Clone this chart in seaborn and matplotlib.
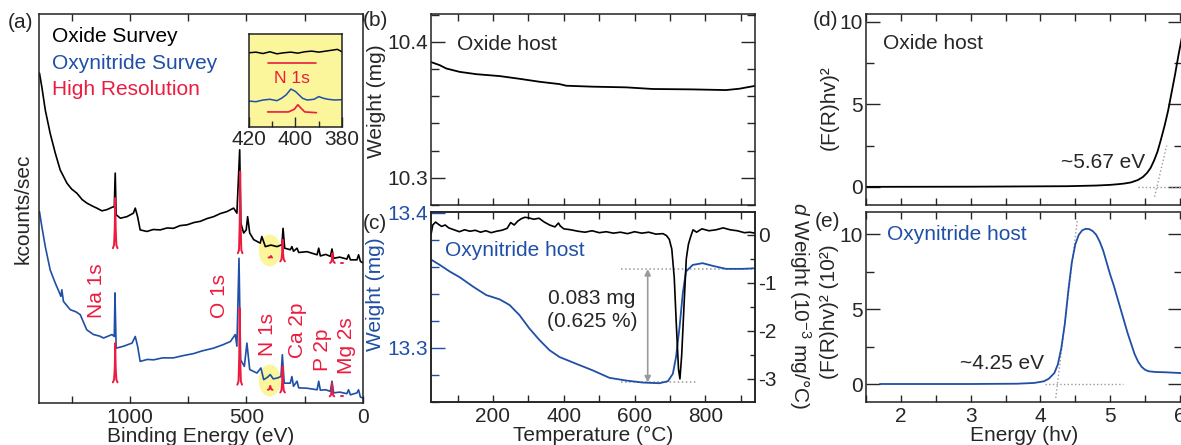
import matplotlib
matplotlib.use("Agg")
import matplotlib.pyplot as plt
from matplotlib.patches import Ellipse
from matplotlib.ticker import MultipleLocator
import seaborn as sns

sns.set_style("ticks")
plt.rcParams["font.family"] = ["Liberation Sans", "DejaVu Sans"]
plt.rcParams["font.size"] = 15
plt.rcParams["axes.unicode_minus"] = False
plt.rcParams["mathtext.fontset"] = "custom"
plt.rcParams["mathtext.rm"] = "Liberation Sans"
plt.rcParams["mathtext.it"] = "Liberation Sans:italic"

BLUE = "#1f4fa6"
RED = "#ec1b3f"
YELLOW = "#fbf59c"
GRAY = "#9a9a9a"

# --- (a) XPS survey spectra (arbitrary kcounts/sec units) ---
be_oxide = [1388, 1378, 1363, 1342, 1320, 1299, 1270, 1250, 1227, 1205, 1185, 1160, 1142, 1120, 1099,
            1077, 1067, 1063, 1059, 1041, 1013, 985, 977, 967, 956, 927, 900, 870, 840, 813, 785, 755,
            725, 698, 670, 641, 612, 584, 555, 541, 529, 524, 512, 501, 495, 486, 469, 441, 434, 419,
            395, 369, 348, 343, 336, 312, 305, 298, 283, 276, 240, 197, 190, 183, 160, 140, 133, 126,
            100, 69, 62, 54, 26, 19, 11, 0]
cps_oxide = [84.8, 81.3, 75.3, 69.3, 64.2, 59.9, 56.5, 55.0, 53.9, 52.3, 51.4, 50.6, 50.1, 49.4, 49.7,
             50.3, 50.5, 59.1, 48.4, 47.5, 47.9, 48.8, 50.1, 47.9, 44.5, 44.1, 44.6, 44.5, 45.0, 44.9,
             45.6, 45.8, 46.4, 46.7, 47.4, 47.9, 48.7, 49.2, 50.1, 48.8, 65.1, 46.2, 43.7, 44.5, 47.9,
             43.7, 42.0, 41.1, 42.8, 40.2, 40.6, 40.2, 40.7, 44.9, 39.8, 39.4, 40.2, 39.0, 39.8, 38.7,
             38.9, 38.1, 39.8, 37.8, 38.2, 37.7, 39.6, 37.2, 37.5, 37.0, 38.1, 36.8, 36.8, 38.1, 36.4, 36.0]
be_oxynitride = [1388, 1378, 1363, 1342, 1320, 1302, 1296, 1292, 1285, 1256, 1230, 1213, 1185, 1156,
                 1130, 1113, 1077, 1067, 1064, 1059, 1027, 991, 977, 967, 956, 925, 898, 860, 813, 770,
                 727, 690, 641, 600, 569, 548, 541, 532, 525, 509, 498, 486, 455, 438, 426, 410, 398,
                 385, 369, 352, 346, 338, 312, 305, 298, 283, 276, 240, 197, 190, 183, 160, 140, 133,
                 126, 100, 69, 62, 54, 26, 19, 11, 0]
cps_oxynitride = [49.2, 45.4, 40.2, 34.2, 30.8, 28.3, 27.4, 29.1, 26.1, 24.0, 23.4, 22.7, 18.8, 17.6,
                  17.2, 16.7, 17.6, 17.1, 28.3, 14.1, 14.6, 15.4, 17.1, 14.6, 10.7, 11.2, 11.1, 11.6,
                  11.6, 12.2, 12.7, 13.4, 14.1, 15.0, 15.8, 17.6, 14.6, 37.2, 11.1, 9.4, 15.4, 8.6, 7.7,
                  9.0, 6.0, 6.6, 7.3, 6.2, 6.4, 6.8, 12.4, 5.1, 5.1, 6.8, 4.3, 5.6, 3.9, 3.8, 3.4, 5.6,
                  3.3, 3.4, 3.0, 5.6, 2.6, 2.8, 2.4, 3.4, 2.1, 2.6, 3.4, 1.5, 1.3]

# high resolution scans (red), one list per element line
hr_oxide_be = [[1073, 1068, 1065, 1063, 1061, 1058, 1053],
               [537, 532, 529, 527, 525, 522, 517],
               [405, 400, 397, 395, 393, 390],
               [355, 350, 347, 345, 343, 340, 335],
               [141, 136, 133, 131, 129, 126, 121],
               [95, 85]]
hr_oxide_cps = [[39.8, 40.6, 45.0, 52.7, 45.0, 40.6, 39.8],
                [38.5, 39.3, 46.0, 59.5, 46.0, 39.3, 38.5],
                [37.4, 37.4, 37.6, 37.8, 37.5, 37.4],
                [36.4, 36.9, 38.5, 42.0, 38.5, 36.9, 36.4],
                [36.0, 36.3, 37.0, 38.5, 37.0, 36.3, 36.0],
                [36.0, 36.0]]
hr_oxyn_be = [[1073, 1068, 1065, 1063, 1061, 1058, 1053],
              [539, 534, 531, 529, 527, 524, 519],
              [408, 403, 400, 398, 396, 393, 388],
              [355, 350, 347, 345, 343, 340, 335],
              [143, 138, 135, 133, 131, 128, 123],
              [95, 85]]
hr_oxyn_cps = [[5.3, 6.0, 9.0, 15.4, 9.0, 6.0, 5.3],
               [4.7, 5.6, 12.0, 24.4, 12.0, 5.6, 4.7],
               [3.4, 3.5, 3.9, 4.4, 3.9, 3.5, 3.4],
               [2.7, 3.2, 5.2, 9.4, 5.2, 3.2, 2.7],
               [1.7, 2.0, 3.0, 5.1, 3.0, 2.0, 1.7],
               [1.7, 1.7]]

peak_names = ["Na 1s", "O 1s", "N 1s", "Ca 2p", "P 2p", "Mg 2s"]
peak_be = [1142, 614, 408, 283, 172, 69]
peak_y = [29.0, 27.5, 17.5, 18.8, 13.6, 14.7]

# inset: N 1s region
ins_be_oxide = [420, 417, 414, 411, 408, 405, 402, 399, 396, 393, 390, 387, 384, 382, 380]
ins_oxide = [79.8, 80.5, 79.0, 80.9, 78.7, 79.8, 80.5, 79.4, 80.9, 81.6, 80.5, 81.6, 82.7, 83.5, 80.9]
ins_be_oxyn = [420, 417, 414, 411, 408, 406, 404, 402, 400, 397, 395, 392, 390, 388, 386, 383, 380]
ins_oxyn = [27.9, 27.2, 29.0, 29.8, 28.3, 30.9, 34.6, 40.8, 38.2, 30.9, 29.0, 29.8, 32.7, 30.9, 29.8, 29.0, 29.4]
ins_hr_be = [412, 403, 400.5, 399, 397.5, 396, 391]
ins_hr = [16.2, 16.2, 19.1, 23.9, 19.9, 16.2, 15.4]
ins_hr_bar_be = [412, 391]
ins_hr_bar = [68.4, 68.4]

# --- (b) TGA oxide host ---
temp_oxide = [23, 50, 68, 106, 153, 219, 275, 332, 388, 407, 482, 576, 651, 764, 858, 896, 938]
wt_oxide = [10.3854, 10.3829, 10.3805, 10.3780, 10.3763, 10.3749, 10.3729, 10.3707, 10.3690,
            10.3678, 10.3671, 10.3666, 10.3654, 10.3651, 10.3646, 10.3656, 10.3676]

# --- (c) TGA / DTG oxynitride host ---
temp_oxyn = [23, 50, 78, 106, 144, 181, 219, 247, 275, 303, 332, 360, 388, 435, 482, 529, 576, 623,
             670, 694, 708, 717, 727, 736, 745, 764, 792, 821, 858, 905, 938]
wt_oxyn = [13.3658, 13.3615, 13.3566, 13.3524, 13.3454, 13.3392, 13.3360, 13.3318, 13.3243, 13.3144,
           13.3057, 13.2983, 13.2933, 13.2883, 13.2834, 13.2779, 13.2759, 13.2744, 13.2739, 13.2754,
           13.2809, 13.2933, 13.3156, 13.3404, 13.3566, 13.3615, 13.3628, 13.3608, 13.3586, 13.3586,
           13.3590]
temp_dtg = [25, 30, 38, 45, 55, 65, 75, 90, 105, 120, 135, 150, 165, 180, 195, 210, 225, 240, 250,
            260, 270, 280, 290, 300, 315, 330, 345, 360, 375, 385, 390, 400, 420, 440, 460, 480, 500,
            520, 540, 560, 580, 600, 620, 640, 660, 680, 690, 698, 705, 712, 718, 724, 728, 733, 740,
            746, 752, 758, 765, 775, 790, 810, 830, 850, 870, 890, 910, 925, 940]
dtg = [0.0, 0.2, 0.26, 0.22, 0.17, 0.2, 0.14, 0.1, 0.06, 0.1, 0.07, 0.09, 0.05, 0.08, 0.04, 0.07, 0.09,
       0.13, 0.25, 0.2, 0.28, 0.33, 0.36, 0.35, 0.32, 0.34, 0.26, 0.2, 0.16, 0.24, 0.18, 0.12, 0.1,
       0.07, 0.05, 0.08, 0.04, 0.06, 0.03, 0.05, 0.02, 0.06, 0.03, 0.05, 0.01, 0.02, -0.02, -0.1, -0.3,
       -0.9, -1.9, -2.8, -3.0, -2.5, -1.4, -0.5, -0.2, -0.05, 0.1, 0.05, 0.12, 0.08, 0.1, 0.14, 0.1,
       0.08, 0.04, 0.05, 0.03]
wt_before = 13.3585
wt_after = 13.2745
step_temp = 637

# --- (d) Tauc plot oxide host ---
energy_oxide = [1.5, 3.0, 4.39, 4.8, 5.0, 5.11, 5.2, 5.3, 5.4, 5.47, 5.53, 5.58, 5.63, 5.68, 5.73,
                5.78, 5.83, 5.88, 5.93, 5.98, 6.03, 6.06]
tauc_oxide = [0.0, 0.01, 0.04, 0.08, 0.12, 0.16, 0.2, 0.27, 0.42, 0.6, 0.85, 1.15, 1.6, 2.15, 2.9,
              3.7, 4.6, 5.7, 6.8, 8.0, 9.1, 9.8]
tangent_d_x = [5.637, 5.81]
tangent_d_y = [-0.6, 2.5]
base_d_x = [5.4, 6.05]

# --- (e) Tauc plot oxynitride host ---
energy_oxyn = [1.7, 3.0, 3.67, 3.91, 4.05, 4.12, 4.2, 4.25, 4.3, 4.35, 4.4, 4.45, 4.5, 4.55, 4.6,
               4.65, 4.7, 4.75, 4.8, 4.85, 4.9, 4.95, 5.0, 5.05, 5.1, 5.15, 5.2, 5.25, 5.3, 5.35,
               5.4, 5.45, 5.5, 5.55, 5.65, 5.8, 6.05]
tauc_oxyn = [0.0, 0.0, 0.02, 0.07, 0.18, 0.35, 0.73, 1.3, 2.4, 4.0, 6.2, 8.1, 9.3, 9.95, 10.25,
             10.35, 10.33, 10.2, 9.95, 9.5, 8.9, 8.1, 7.3, 6.6, 5.8, 5.0, 4.2, 3.4, 2.7, 2.0, 1.5,
             1.15, 0.95, 0.85, 0.8, 0.78, 0.72]
tangent_e_x = [4.22, 4.53]
tangent_e_y = [-0.93, 10.96]
base_e_x = [4.07, 5.18]

W, H = 1181, 445


def px_axes(left, top, right, bottom):
    return fig.add_axes([left / W, 1 - bottom / H, (right - left) / W, (bottom - top) / H])


def draw(ax, x, y, color, lw=1.3, ls="-"):
    sns.lineplot(x=x, y=y, ax=ax, color=color, lw=lw, ls=ls, sort=False,
                 estimator=None, legend=False)


def frame(ax):
    for s in ax.spines.values():
        s.set_linewidth(1.1)
        s.set_color("#222222")
    ax.set_xlabel("")
    ax.set_ylabel("")


fig = plt.figure(figsize=(W / 100, H / 100), dpi=100)

# ---------------- panel (a) ----------------
ax_a = px_axes(39, 14, 363, 403)
for be, yc in [(400, 39.2), (400, 5.8)]:
    ax_a.add_patch(Ellipse((be, yc), 94, 8.2, facecolor=YELLOW, edgecolor="none", zorder=0))
draw(ax_a, be_oxide, cps_oxide, "black", lw=1.2)
draw(ax_a, be_oxynitride, cps_oxynitride, BLUE, lw=1.2)
for bx, cy in zip(hr_oxide_be, hr_oxide_cps):
    draw(ax_a, bx, cy, RED, lw=1.4)
for bx, cy in zip(hr_oxyn_be, hr_oxyn_cps):
    draw(ax_a, bx, cy, RED, lw=1.4)
ax_a.set_xlim(1390, 0)
ax_a.set_ylim(0, 100)
frame(ax_a)
ax_a.set_yticks([])
ax_a.xaxis.set_major_locator(MultipleLocator(500))
ax_a.xaxis.set_minor_locator(MultipleLocator(250))
ax_a.tick_params(axis="x", which="both", direction="in", top=True, length=5, width=1)
ax_a.set_xlabel("Binding Energy (eV)", labelpad=0)
ax_a.set_ylabel("kcounts/sec")
ax_a.yaxis.set_label_coords(-0.049, 0.5)
ax_a.yaxis.label.set_va("center")
for name, bx, by in zip(peak_names, peak_be, peak_y):
    ax_a.text(bx, by, name, color=RED, rotation=90, ha="center", va="center")
ax_a.text(0.04, 0.943, "Oxide Survey", transform=ax_a.transAxes, va="center", color="black")
ax_a.text(0.04, 0.874, "Oxynitride Survey", transform=ax_a.transAxes, va="center", color=BLUE)
ax_a.text(0.04, 0.805, "High Resolution", transform=ax_a.transAxes, va="center", color=RED)

# inset
ax_in = px_axes(249, 34, 342, 127)
ax_in.set_facecolor(YELLOW)
draw(ax_in, ins_be_oxide, ins_oxide, "black", lw=1.1)
draw(ax_in, ins_be_oxyn, ins_oxyn, BLUE, lw=1.1)
draw(ax_in, ins_hr_be, ins_hr, RED, lw=1.2)
draw(ax_in, ins_hr_bar_be, ins_hr_bar, RED, lw=1.2)
ax_in.text(401.5, 52, "N 1s", color=RED, ha="center", va="center", fontsize=12.5)
ax_in.set_xlim(420, 380)
ax_in.set_ylim(0, 100)
frame(ax_in)
ax_in.set_yticks([])
ax_in.xaxis.set_major_locator(MultipleLocator(20))
ax_in.xaxis.set_minor_locator(MultipleLocator(10))
ax_in.tick_params(axis="x", which="major", direction="in", length=7, width=1, pad=2)
ax_in.tick_params(axis="x", which="minor", direction="in", length=4.5, width=1)

# ---------------- panel (b) ----------------
ax_b = px_axes(431, 14, 755, 205)
draw(ax_b, temp_oxide, wt_oxide, "black", lw=1.3)
ax_b.set_xlim(25, 940)
ax_b.set_ylim(10.280, 10.4206)
frame(ax_b)
ax_b.xaxis.set_major_locator(MultipleLocator(200))
ax_b.xaxis.set_minor_locator(MultipleLocator(100))
ax_b.yaxis.set_major_locator(MultipleLocator(0.1))
ax_b.yaxis.set_minor_locator(MultipleLocator(0.02))
ax_b.tick_params(axis="x", which="both", direction="in", top=True, length=5, width=1, labelbottom=False)
ax_b.tick_params(axis="y", which="major", direction="in", length=10, width=1, right=True, pad=2)
ax_b.tick_params(axis="y", which="minor", direction="in", length=5.5, width=1, right=True)
ax_b.set_ylabel("Weight (mg)")
ax_b.yaxis.set_label_coords(-0.167, 0.545)
ax_b.yaxis.label.set_va("center")
ax_b.text(0.08, 0.84, "Oxide host", transform=ax_b.transAxes, va="center")

# ---------------- panel (c) ----------------
ax_c = px_axes(431, 212, 755, 402)
ax_c.hlines(wt_before, 562, 934, colors=GRAY, linestyles=":", lw=1.1)
ax_c.hlines(wt_after, 562, 778, colors=GRAY, linestyles=":", lw=1.1)
ax_c.annotate("", xy=(step_temp, wt_after), xytext=(step_temp, wt_before),
              arrowprops=dict(arrowstyle="<|-|>", color=GRAY, lw=1.2, mutation_scale=9,
                              shrinkA=0, shrinkB=0))
draw(ax_c, temp_oxyn, wt_oxyn, BLUE, lw=1.3)
ax_c.set_xlim(25, 940)
ax_c.set_ylim(13.26, 13.4007)
frame(ax_c)
ax_c.xaxis.set_major_locator(MultipleLocator(200))
ax_c.xaxis.set_minor_locator(MultipleLocator(100))
ax_c.yaxis.set_major_locator(MultipleLocator(0.1))
ax_c.yaxis.set_minor_locator(MultipleLocator(0.02))
ax_c.tick_params(axis="x", which="both", direction="in", top=True, length=5, width=1)
ax_c.tick_params(axis="y", which="major", direction="in", length=10, width=1, colors=BLUE, pad=2)
ax_c.tick_params(axis="y", which="minor", direction="in", length=5.5, width=1, colors=BLUE)
ax_c.set_xlabel("Temperature (°C)", labelpad=0)
ax_c.set_ylabel("Weight (mg)", color=BLUE)
ax_c.yaxis.set_label_coords(-0.170, 0.568)
ax_c.yaxis.label.set_va("center")
ax_c.text(0.043, 0.80, "Oxynitride host", transform=ax_c.transAxes, va="center", color=BLUE)
ax_c.text(480, 13.328, "0.083 mg\n(0.625 %)", ha="center", va="center", linespacing=1.3)

ax_c2 = ax_c.twinx()
draw(ax_c2, temp_dtg, dtg, "black", lw=1.2)
ax_c2.set_ylim(-3.48, 0.47)
frame(ax_c2)
ax_c2.yaxis.set_major_locator(MultipleLocator(1))
ax_c2.yaxis.set_minor_locator(MultipleLocator(0.5))
ax_c2.tick_params(axis="y", which="major", direction="in", length=6, width=1, pad=2)
ax_c2.tick_params(axis="y", which="minor", direction="in", length=3.5, width=1)
ax_c2.set_ylabel("$d$ Weight (10$^{-3}$ mg/°C)", rotation=270)
ax_c2.yaxis.set_label_coords(1.139, 0.505)
ax_c2.yaxis.label.set_va("center")

# ---------------- panel (d) ----------------
ax_d = px_axes(866, 14, 1182, 205)
draw(ax_d, base_d_x, [0, 0], GRAY, lw=1.0, ls=":")
draw(ax_d, tangent_d_x, tangent_d_y, GRAY, lw=1.0, ls=":")
draw(ax_d, energy_oxide, tauc_oxide, "black", lw=1.3)
ax_d.set_xlim(1.5, 6.03)
ax_d.set_ylim(-1.1, 10.48)
frame(ax_d)
ax_d.xaxis.set_major_locator(MultipleLocator(1))
ax_d.xaxis.set_minor_locator(MultipleLocator(0.5))
ax_d.yaxis.set_major_locator(MultipleLocator(5))
ax_d.yaxis.set_minor_locator(MultipleLocator(2.5))
ax_d.tick_params(axis="x", which="both", direction="in", top=True, length=5, width=1, labelbottom=False)
ax_d.tick_params(axis="y", which="major", direction="in", length=10, width=1, right=True, pad=2)
ax_d.tick_params(axis="y", which="minor", direction="in", length=5.5, width=1, right=True)
ax_d.set_ylabel("(F(R)hv)²")
ax_d.yaxis.set_label_coords(-0.117, 0.508)
ax_d.yaxis.label.set_va("center")
ax_d.text(0.054, 0.848, "Oxide host", transform=ax_d.transAxes, va="center")
ax_d.text(5.5, 1.5, "~5.67 eV", ha="right", va="center")

# ---------------- panel (e) ----------------
ax_e = px_axes(866, 212, 1182, 402)
draw(ax_e, base_e_x, [0, 0], GRAY, lw=1.0, ls=":")
draw(ax_e, tangent_e_x, tangent_e_y, GRAY, lw=1.0, ls=":")
draw(ax_e, energy_oxyn, tauc_oxyn, BLUE, lw=1.3)
ax_e.set_xlim(1.5, 6.03)
ax_e.set_ylim(-1.2, 11.47)
frame(ax_e)
ax_e.xaxis.set_major_locator(MultipleLocator(1))
ax_e.xaxis.set_minor_locator(MultipleLocator(0.5))
ax_e.yaxis.set_major_locator(MultipleLocator(5))
ax_e.yaxis.set_minor_locator(MultipleLocator(2.5))
ax_e.tick_params(axis="x", which="both", direction="in", top=True, length=5, width=1)
ax_e.tick_params(axis="y", which="major", direction="in", length=10, width=1, right=True, pad=2)
ax_e.tick_params(axis="y", which="minor", direction="in", length=5.5, width=1, right=True)
ax_e.set_xlabel("Energy (hv)", labelpad=0)
ax_e.set_ylabel("(F(R)hv)² (10²)")
ax_e.yaxis.set_label_coords(-0.114, 0.474)
ax_e.yaxis.label.set_va("center")
ax_e.text(1.8, 10.0, "Oxynitride host", va="center", color=BLUE)
ax_e.text(4.05, 1.4, "~4.25 eV", ha="right", va="center")

# panel letters
for letter, x, y in [("(a)", 8, 13), ("(b)", 363, 11), ("(c)", 363, 214), ("(d)", 813, 11), ("(e)", 815, 212)]:
    fig.text(x / W, 1 - y / H, letter, ha="left", va="top")

fig.savefig("out.png", dpi=100)
